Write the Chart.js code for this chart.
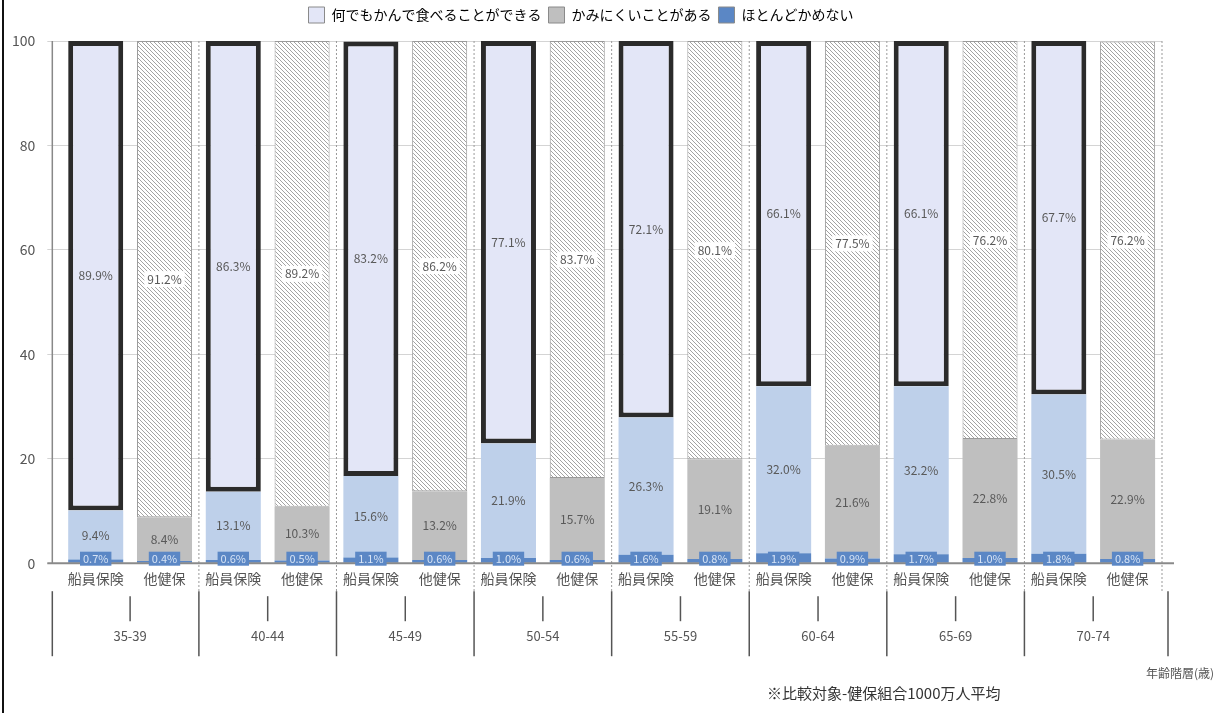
<!DOCTYPE html>
<html>
<head>
<meta charset="utf-8">
<script src="https://cdn.jsdelivr.net/npm/chart.js@4.4.0/dist/chart.umd.min.js"></script>
<style>
	html, body { margin: 0; padding: 0; background: #fff; }
	#wrap { position: relative; width: 1224px; height: 713px; overflow: hidden; }
	#wrap:before { content: ''; position: absolute; left: 2px; top: 0; width: 2px; height: 713px; background: #111; }
	#axisNote { position: absolute; right: 10px; top: 664px; font: 12px "Noto Sans CJK JP"; color: #555; }
	#footNote { position: absolute; left: 767px; top: 682px; font: 15px "Noto Sans CJK JP"; color: #333; }
</style>
</head>
<body>
<div id="wrap">
	<canvas id="myChart" width="1224" height="713"></canvas>
	<div id="axisNote">年齢階層(歳)</div>
	<div id="footNote">※比較対象-健保組合1000万人平均</div>
</div>
<script>
// 年齢階層
var ageGroups = ['35-39', '40-44', '45-49', '50-54', '55-59', '60-64', '65-69', '70-74'];
var insurers = ['船員保険', '他健保'];
var yTicks = [0, 20, 40, 60, 80, 100];

// 船員保険 (%)
var seninCanEat = [89.9, 86.3, 83.2, 77.1, 72.1, 66.1, 66.1, 67.7];
var seninHard = [9.4, 13.1, 15.6, 21.9, 26.3, 32.0, 32.2, 30.5];
var seninCannot = [0.7, 0.6, 1.1, 1.0, 1.6, 1.9, 1.7, 1.8];

// 他健保 (%)
var otherCanEat = [91.2, 89.2, 86.2, 83.7, 80.1, 77.5, 76.2, 76.2];
var otherHard = [8.4, 10.3, 13.2, 15.7, 19.1, 21.6, 22.8, 22.9];
var otherCannot = [0.4, 0.5, 0.6, 0.6, 0.8, 0.9, 1.0, 0.8];

var seriesNames = ['何でもかんで食べることができる', 'かみにくいことがある', 'ほとんどかめない'];

function pairUp(a, b) {
	var out = [];
	for (var i = 0; i < a.length; i++) {
		out.push(a[i]);
		out.push(b[i]);
	}
	return out;
}
function alt(a, b) {
	return pairUp(ageGroups.map(() => a), ageGroups.map(() => b));
}

var labels = [];
ageGroups.forEach(() => {
	labels.push(insurers[0]);
	labels.push(insurers[1]);
});

var FONT = '"Noto Sans CJK JP", "Noto Sans", sans-serif';
var LAVENDER = '#e3e6f7';
var LIGHTBLUE = '#bed0ea';
var GRAY = '#bfbfbf';
var BLUE = '#5b87c5';

// 斜線パターン
var hatch = (function () {
	var c = document.createElement('canvas');
	c.width = 4;
	c.height = 4;
	var g = c.getContext('2d');
	g.fillStyle = '#fff';
	g.fillRect(0, 0, 4, 4);
	g.strokeStyle = '#a3a3a3';
	g.lineWidth = 1;
	g.beginPath();
	g.moveTo(-1, -1);
	g.lineTo(5, 5);
	g.moveTo(-1, 3);
	g.lineTo(1, 5);
	g.moveTo(3, -1);
	g.lineTo(5, 1);
	g.stroke();
	return g.createPattern(c, 'repeat');
})();

function groupBoundary(x, g) {
	return (x.getPixelForValue(2 * g - 1) + x.getPixelForValue(2 * g)) / 2;
}

var legendMargin = {
	id: 'legendMargin',
	beforeInit: function (chart) {
		var fit = chart.legend.fit;
		chart.legend.fit = function () {
			fit.bind(chart.legend)();
			this.height += 8;
		};
	},
};

var frameLines = {
	id: 'frameLines',
	beforeDatasetsDraw: function (chart) {
		var ctx = chart.ctx;
		var area = chart.chartArea;
		var x = chart.scales.x;
		ctx.save();
		// 区切りの点線
		ctx.strokeStyle = '#9a9a9a';
		ctx.lineWidth = 1;
		ctx.setLineDash([2, 2]);
		for (var g = 1; g <= ageGroups.length; g++) {
			var bx = g == ageGroups.length ? area.right : groupBoundary(x, g);
			ctx.beginPath();
			ctx.moveTo(bx, area.top);
			ctx.lineTo(bx, area.bottom + 28);
			ctx.stroke();
		}
		ctx.setLineDash([]);
		// y軸
		ctx.strokeStyle = '#888';
		ctx.lineWidth = 1.5;
		ctx.beginPath();
		ctx.moveTo(area.left - 9, area.top);
		ctx.lineTo(area.left - 9, area.bottom);
		ctx.stroke();
		ctx.restore();
	},
	afterDatasetsDraw: function (chart) {
		var ctx = chart.ctx;
		var area = chart.chartArea;
		var x = chart.scales.x;
		ctx.save();
		// x軸
		ctx.strokeStyle = '#8a8a8a';
		ctx.lineWidth = 2;
		ctx.beginPath();
		ctx.moveTo(area.left - 14, area.bottom);
		ctx.lineTo(area.right + 12, area.bottom);
		ctx.stroke();
		// 年齢階層の目盛り
		var top = area.bottom + 28;
		ctx.strokeStyle = '#555';
		ctx.lineWidth = 1.5;
		for (var g = 0; g <= ageGroups.length; g++) {
			var bx;
			if (g == 0) bx = area.left - 9;
			else if (g == ageGroups.length) bx = area.right + 6;
			else bx = groupBoundary(x, g);
			ctx.beginPath();
			ctx.moveTo(bx, top);
			ctx.lineTo(bx, top + 65);
			ctx.stroke();
		}
		ctx.font = '13px ' + FONT;
		ctx.fillStyle = '#555';
		ctx.textAlign = 'center';
		ctx.textBaseline = 'middle';
		ageGroups.forEach(function (name, g) {
			var cx = (x.getPixelForValue(2 * g) + x.getPixelForValue(2 * g + 1)) / 2;
			ctx.beginPath();
			ctx.moveTo(cx, top + 5);
			ctx.lineTo(cx, top + 30);
			ctx.stroke();
			ctx.fillText(name, cx, top + 45);
		});
		ctx.restore();
	},
};

var segmentLabels = {
	id: 'segmentLabels',
	afterDatasetsDraw: function (chart) {
		var ctx = chart.ctx;
		ctx.save();
		ctx.textAlign = 'center';
		ctx.textBaseline = 'middle';
		chart.data.datasets.forEach(function (ds, di) {
			var meta = chart.getDatasetMeta(di);
			meta.data.forEach(function (bar, i) {
				var txt = ds.data[i].toFixed(1) + '%';
				var cx = bar.x;
				var cy = (bar.y + bar.base) / 2;
				ctx.font = (ds.level == 'cannot' ? '11px ' : '12px ') + FONT;
				var w = ctx.measureText(txt).width;
				ctx.fillStyle = '#595959';
				if (ds.level == 'cannot') {
					cy = bar.base - 4;
					ctx.fillStyle = BLUE;
					ctx.fillRect(cx - w / 2 - 3, cy - 7, w + 6, 14);
					ctx.fillStyle = '#d6e3f5';
				} else if (ds.level == 'canEat' && i % 2 == 1) {
					ctx.fillStyle = '#fff';
					ctx.fillRect(cx - w / 2 - 3, cy - 8, w + 6, 16);
					ctx.fillStyle = '#595959';
				}
				ctx.fillText(txt, cx, cy);
			});
		});
		ctx.restore();
	},
};

var ctx = document.getElementById('myChart');
var myChart = new Chart(ctx, {
	type: 'bar',
	data: {
		labels: labels,
		datasets: [
			{
				label: seriesNames[2],
				level: 'cannot',
				data: pairUp(seninCannot, otherCannot),
				backgroundColor: BLUE,
				borderWidth: 0,
			},
			{
				label: seriesNames[1],
				level: 'hard',
				data: pairUp(seninHard, otherHard),
				backgroundColor: alt(LIGHTBLUE, GRAY),
				borderWidth: 0,
			},
			{
				label: seriesNames[0],
				level: 'canEat',
				data: pairUp(seninCanEat, otherCanEat),
				backgroundColor: alt(LAVENDER, hatch),
				borderColor: alt('#2b2b2b', '#9a9a9a'),
				borderWidth: alt(5, 1),
				borderSkipped: false,
			},
		],
	},
	options: {
		responsive: false,
		animation: false,
		layout: { padding: { top: 0, left: 0, right: 62, bottom: 119 } },
		datasets: { bar: { barPercentage: 0.8, categoryPercentage: 1 } },
		plugins: {
			legend: {
				position: 'top',
				labels: {
					padding: 7,
					boxWidth: 16,
					boxHeight: 16,
					color: '#555',
					font: { family: FONT, size: 14 },
					generateLabels: function () {
						return [
							{ text: seriesNames[0], fillStyle: LAVENDER, strokeStyle: '#8a8a8a', lineWidth: 1, datasetIndex: 2 },
							{ text: seriesNames[1], fillStyle: GRAY, strokeStyle: '#8a8a8a', lineWidth: 1, datasetIndex: 1 },
							{ text: seriesNames[2], fillStyle: BLUE, strokeStyle: '#8a8a8a', lineWidth: 1, datasetIndex: 0 },
						];
					},
				},
			},
			tooltip: { enabled: false },
		},
		scales: {
			x: {
				stacked: true,
				grid: { display: false, drawTicks: false },
				border: { display: false },
				ticks: {
					padding: 7,
					color: '#555',
					maxRotation: 0,
					autoSkip: false,
					font: { family: FONT, size: 14, lineHeight: 1.2 },
				},
			},
			y: {
				stacked: true,
				min: 0,
				max: 100,
				afterBuildTicks: function (axis) {
					axis.ticks = yTicks.map((v) => ({ value: v }));
				},
				grid: { color: '#d4d4d4', tickLength: 14, lineWidth: 1 },
				border: { display: false },
				ticks: {
					padding: 12,
					color: '#555',
					font: { family: FONT, size: 14 },
				},
			},
		},
	},
	plugins: [legendMargin, frameLines, segmentLabels],
});
</script>
</body>
</html>
